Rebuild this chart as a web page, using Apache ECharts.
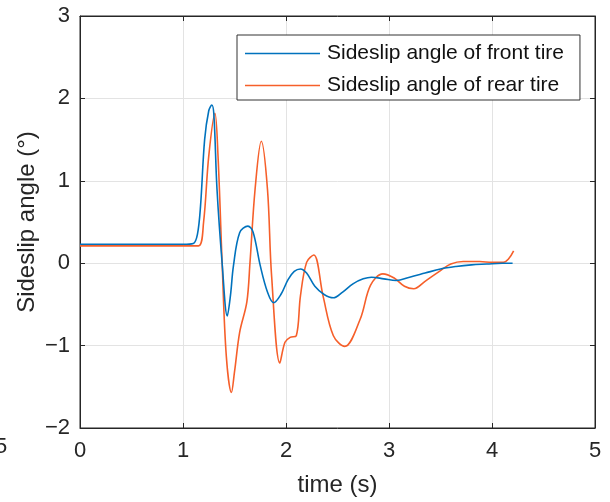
<!DOCTYPE html>
<html><head><meta charset="utf-8">
<script src="https://cdn.jsdelivr.net/npm/echarts@6/dist/echarts.min.js"></script>
<style>html,body{margin:0;padding:0;background:#fff}#c{width:610px;height:502px}</style>
</head><body><div id="c"></div>
<script>
const seriesNames = ['Sideslip angle of front tire', 'Sideslip angle of rear tire'];
const xTicks = [0, 1, 2, 3, 4, 5];
const yTicks = [-2, -1, 0, 1, 2, 3];
const frontT = [0,0.5,1.0,1.1,1.14,1.17,1.21,1.25,1.28,1.30,1.33,1.38,1.43,1.46,1.49,1.55,1.63,1.68,1.75,1.82,1.88,1.95,2.02,2.08,2.14,2.2,2.28,2.37,2.46,2.55,2.65,2.75,2.83,2.95,3.07,3.2,3.35,3.5,3.65,3.8,3.95,4.1,4.2];
const frontY = [0.23,0.23,0.23,0.24,0.35,0.69,1.5,1.85,1.92,1.8,0.9,0.0,-0.64,-0.4,-0.03,0.37,0.45,0.38,-0.03,-0.35,-0.48,-0.38,-0.2,-0.1,-0.07,-0.12,-0.28,-0.38,-0.42,-0.35,-0.25,-0.19,-0.17,-0.19,-0.21,-0.17,-0.12,-0.07,-0.04,-0.02,-0.01,0,0];
const rearT = [0,0.5,1.0,1.15,1.20,1.25,1.31,1.34,1.38,1.42,1.47,1.50,1.55,1.62,1.65,1.70,1.76,1.82,1.86,1.94,1.99,2.04,2.10,2.14,2.20,2.27,2.36,2.46,2.57,2.72,2.82,2.94,3.05,3.15,3.24,3.35,3.5,3.6,3.72,3.88,4.0,4.11,4.16,4.21];
const rearY = [0.21,0.21,0.21,0.21,0.5,1.3,1.82,1.3,0.0,-1.12,-1.57,-1.32,-0.84,-0.47,0.0,0.9,1.48,0.9,-0.15,-1.21,-0.96,-0.9,-0.88,-0.4,0.01,0.10,-0.4,-0.88,-1.01,-0.68,-0.27,-0.13,-0.18,-0.28,-0.31,-0.22,-0.09,-0.01,0.02,0.02,0.01,0.01,0.05,0.15];

const font = 'Liberation Sans, Arial, sans-serif';
const txt = '#262626';
const fmt = v => String(v).replace('-', '\u2212');
const chart = echarts.init(document.getElementById('c'), null, {renderer: 'canvas'});
const frontData = frontT.map((t, i) => [t, frontY[i]]);
const rearData = rearT.map((t, i) => [t, rearY[i]]);
chart.setOption({
  animation: false,
  backgroundColor: '#fff',
  grid: {left: 80, top: 16, right: 15, bottom: 72, show: true, borderColor: txt, borderWidth: 1},
  legend: {
    orient: 'vertical', left: 237, top: 35,
    data: seriesNames,
    icon: 'rect', itemWidth: 75, itemHeight: 1.5, itemGap: 11,
    padding: [8, 16, 4, 8],
    borderColor: '#333', borderWidth: 1, backgroundColor: '#fff',
    textStyle: {fontSize: 21, fontFamily: font, color: '#111', padding: [0,0,0,2]}
  },
  xAxis: [{
    type: 'value', min: xTicks[0], max: xTicks[xTicks.length-1], interval: 1,
    name: 'time (s)', nameLocation: 'middle', nameGap: 45, nameMoveOverlap: false,
    nameTextStyle: {fontSize: 24, fontFamily: font, color: txt},
    axisLine: {show: true, onZero: false, lineStyle: {color: txt}},
    axisTick: {show: true, inside: true, length: 5, lineStyle: {color: txt}},
    axisLabel: {fontSize: 22, fontFamily: font, color: txt, margin: 12, formatter: fmt},
    splitLine: {show: true, lineStyle: {color: '#e3e3e3'}}
  }, {
    type: 'value', position: 'top', min: 0, max: 5, interval: 1,
    axisLine: {show: true, onZero: false, lineStyle: {color: txt}},
    axisTick: {show: true, inside: true, length: 5, lineStyle: {color: txt}},
    axisLabel: {show: false}, splitLine: {show: false}
  }],
  yAxis: [{
    type: 'value', min: yTicks[0], max: yTicks[yTicks.length-1], interval: 1,
    name: 'Sideslip angle (\u00b0)', nameLocation: 'middle', nameGap: 41, nameMoveOverlap: false,
    nameTextStyle: {fontSize: 24, fontFamily: font, color: txt},
    axisLine: {show: true, onZero: false, lineStyle: {color: txt}},
    axisTick: {show: true, inside: true, length: 5, lineStyle: {color: txt}},
    axisLabel: {fontSize: 22, fontFamily: font, color: txt, margin: 10, formatter: fmt},
    splitLine: {show: true, lineStyle: {color: '#e3e3e3'}}
  }, {
    type: 'value', position: 'right', min: -2, max: 3, interval: 1,
    axisLine: {show: true, onZero: false, lineStyle: {color: txt}},
    axisTick: {show: true, inside: true, length: 5, lineStyle: {color: txt}},
    axisLabel: {show: false}, splitLine: {show: false}
  }],
  graphic: [{type: 'text', left: -5, top: 436, style: {text: '5', fontSize: 22, fontFamily: font, fill: txt}}],
  series: [{
    name: seriesNames[0], type: 'line', data: frontData, smooth: 0.35, showSymbol: false,
    lineStyle: {color: '#0072BD', width: 1.6}, itemStyle: {color: '#0072BD'}, z: 3
  }, {
    name: seriesNames[1], type: 'line', data: rearData, smooth: 0.35, showSymbol: false,
    lineStyle: {color: '#F65F2A', width: 1.6}, itemStyle: {color: '#F65F2A'}, z: 2
  }]
});
</script></body></html>
